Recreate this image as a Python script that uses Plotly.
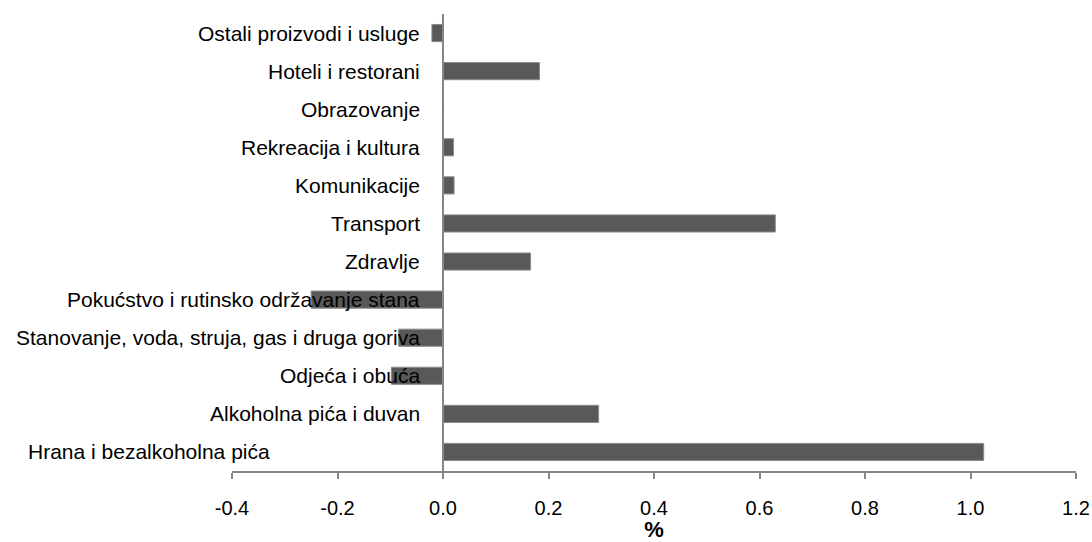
import plotly.graph_objects as go

categories = [
    "Hrana i bezalkoholna pića",
    "Alkoholna pića i duvan",
    "Odjeća i obuća",
    "Stanovanje, voda, struja, gas i druga goriva",
    "Pokućstvo i rutinsko održavanje stana",
    "Zdravlje",
    "Transport",
    "Komunikacije",
    "Rekreacija i kultura",
    "Obrazovanje",
    "Hoteli i restorani",
    "Ostali proizvodi i usluge",
]
values = [1.025, 0.295, -0.098, -0.084, -0.250, 0.166, 0.630, 0.021, 0.020, 0.001, 0.183, -0.021]
x_ticks = [-0.4, -0.2, 0.0, 0.2, 0.4, 0.6, 0.8, 1.0, 1.2]

fig = go.Figure(
    go.Bar(
        x=values,
        y=categories,
        orientation="h",
        marker=dict(color="#595959", line=dict(color="#8c8c8c", width=1)),
    )
)

# category labels placed next to the zero line (Excel style); the first one sits further left
for i, cat in enumerate(categories):
    fig.add_annotation(
        x=0,
        y=cat,
        xref="x",
        yref="y",
        text=cat,
        showarrow=False,
        xanchor="right",
        yanchor="middle",
        xshift=-171 if i == 0 else -21,
        font=dict(size=21, color="black"),
    )

fig.update_layout(
    width=1092,
    height=542,
    margin=dict(l=232, r=16, t=14, b=71),
    plot_bgcolor="white",
    paper_bgcolor="white",
    bargap=0.55,
    showlegend=False,
    font=dict(family="Liberation Sans, Arial, sans-serif", size=20, color="black"),
    xaxis=dict(
        range=[-0.4, 1.2],
        tickvals=x_ticks,
        ticktext=[f"{v:.1f}" for v in x_ticks],
        showgrid=False,
        zeroline=False,
        showline=True,
        linecolor="#868686",
        linewidth=2,
        ticks="outside",
        ticklen=6,
        tickwidth=1.5,
        tickcolor="#868686",
        tickfont=dict(size=20),
        ticklabelstandoff=12,
        automargin=False,
        title=dict(text="<b>%</b>", font=dict(size=22), standoff=0),
    ),
    yaxis=dict(
        categoryorder="array",
        categoryarray=categories,
        anchor="free",
        position=0.25,
        showgrid=False,
        zeroline=False,
        showline=True,
        linecolor="#868686",
        linewidth=1.5,
        ticks="",
        showticklabels=False,
        automargin=False,
        range=[-0.5, 11.5],
    ),
)

fig.write_html(
    "out.html",
    config={"displayModeBar": False},
    post_script="document.body.style.margin='0';document.body.style.overflow='hidden';",
)
